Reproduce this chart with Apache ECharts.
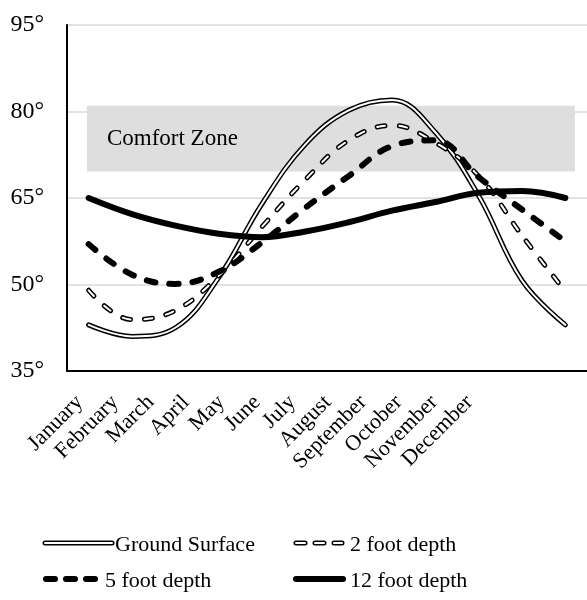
<!DOCTYPE html>
<html lang="en">
<head>
    <meta charset="UTF-8">
    <title>Ground temperature by depth</title>
    <script src="https://cdn.jsdelivr.net/npm/echarts@6/dist/echarts.min.js"></script>
    <style>
        html, body { margin: 0; padding: 0; background: #fff; }
        #chart { width: 587px; height: 600px; }
    </style>
</head>
<body>
    <div id="chart"></div>

    <script>
        // data (degrees F)
        const months = ['January', 'February', 'March', 'April', 'May', 'June',
            'July', 'August', 'September', 'October', 'November', 'December'];
        const groundSurface = [43, 41, 42.5, 51.2, 64, 74.3, 80.2, 82, 76.4, 65.4, 50.7, 43];
        const twoFoot = [49, 43.9, 45.5, 51.5, 60, 68.2, 75, 77.6, 74.6, 68.8, 58.5, 48.8];
        const fiveFoot = [57, 51.7, 50.1, 52.2, 57.3, 63.3, 68.8, 74, 75, 68.6, 63, 57.5];
        const twelveFoot = [65, 62.2, 60.2, 58.8, 58.2, 59.2, 60.8, 62.8, 64.3, 65.9, 66.2, 65];
        const comfortZone = [69.6, 81];   // low, high
        const yTicks = [35, 50, 65, 80, 95];

        // x labels sit on their own, tighter spaced axis (as in the original)
        const labelCats = months.concat(['', '']);

        const FONT = 'Liberation Serif';
        const chart = echarts.init(document.getElementById('chart'));

        function line(name, data, width, color, dash, z) {
            return {
                name: name,
                type: 'line',
                data: data,
                smooth: 0.4,
                showSymbol: false,
                symbol: 'none',
                silent: true,
                z: z,
                lineStyle: {
                    width: width,
                    color: color,
                    type: dash || 'solid',
                    cap: 'round',
                    join: 'round'
                }
            };
        }

        // legend drawn by hand so the double lines can be shown
        function legendItem(x1, x2, y, text, tx, parts) {
            const els = parts.map(p => ({
                type: 'line',
                shape: { x1: x1, y1: y, x2: x2, y2: y },
                style: { stroke: p.color, lineWidth: p.width, lineCap: 'round', lineDash: p.dash || null },
                z: 100 + (p.z || 0)
            }));
            els.push({
                type: 'text',
                x: tx,
                y: y + 2,
                style: { text: text, font: '22px "Liberation Serif"', fill: '#000', verticalAlign: 'middle' },
                z: 100
            });
            return els;
        }

        const graphics = [].concat(
            legendItem(45, 112, 543, 'Ground Surface', 115, [
                { color: '#000', width: 5 }, { color: '#fff', width: 2, z: 1 }]),
            legendItem(296, 342, 543, '2 foot depth', 350, [
                { color: '#000', width: 5, dash: [9, 10] }, { color: '#fff', width: 2, dash: [9, 10], z: 1 }]),
            legendItem(46, 95, 579, '5 foot depth', 105, [
                { color: '#000', width: 6, dash: [9, 11] }]),
            legendItem(296, 343, 579, '12 foot depth', 350, [
                { color: '#000', width: 6 }])
        );

        const option = {
            animation: false,
            backgroundColor: '#fff',
            textStyle: { fontFamily: FONT, color: '#000' },
            grid: [
                { left: 67, right: 0, top: 25, bottom: 229 },
                { left: 62, width: 35.45 * labelCats.length, top: 25, bottom: 229 }
            ],
            xAxis: [
                {
                    type: 'category',
                    gridIndex: 0,
                    data: months,
                    boundaryGap: true,
                    axisLine: { show: true, onZero: false, lineStyle: { color: '#000', width: 2 } },
                    axisTick: { show: false },
                    axisLabel: { show: false },
                    splitLine: { show: false }
                },
                {
                    type: 'category',
                    gridIndex: 1,
                    data: labelCats,
                    boundaryGap: true,
                    axisLine: { show: false },
                    axisTick: { show: false },
                    splitLine: { show: false },
                    axisLabel: {
                        interval: 0,
                        rotate: 45,
                        margin: 28,
                        fontSize: 22,
                        fontFamily: FONT,
                        color: '#000'
                    }
                },
                {
                    // helper axis for the comfort zone band
                    type: 'value',
                    gridIndex: 0,
                    min: -0.5,
                    max: 11.5,
                    show: false
                }
            ],
            yAxis: [
                {
                    type: 'value',
                    gridIndex: 0,
                    min: yTicks[0],
                    max: yTicks[yTicks.length - 1],
                    interval: 15,
                    axisLine: { show: true, onZero: false, lineStyle: { color: '#000', width: 2 } },
                    axisTick: { show: false },
                    axisLabel: {
                        formatter: '{value}°',
                        fontSize: 24,
                        fontFamily: FONT,
                        color: '#000',
                        margin: 23
                    },
                    splitLine: { lineStyle: { color: '#d9d9d9', width: 1.5 } }
                },
                { type: 'value', gridIndex: 1, min: 0, max: 1, show: false }
            ],
            graphic: graphics,
            series: [
                {
                    name: 'Comfort Zone',
                    type: 'line',
                    xAxisIndex: 2,
                    yAxisIndex: 0,
                    data: [],
                    silent: true,
                    markArea: {
                        silent: true,
                        itemStyle: { color: '#dedede' },
                        label: {
                            show: true,
                            position: 'insideLeft',
                            offset: [15, 0],
                            fontSize: 23,
                            fontFamily: FONT,
                            color: '#000'
                        },
                        data: [[
                            { name: 'Comfort Zone', coord: [-0.04, comfortZone[0]] },
                            { coord: [11.22, comfortZone[1]] }
                        ]]
                    }
                },
                { type: 'line', xAxisIndex: 1, yAxisIndex: 1, data: [], silent: true },
                line('Ground Surface', groundSurface, 5, '#000', null, 2),
                line('Ground Surface inner', groundSurface, 2, '#fff', null, 3),
                line('2 foot depth', twoFoot, 5, '#000', [8, 14], 4),
                line('2 foot depth inner', twoFoot, 2, '#fff', [8, 14], 5),
                line('5 foot depth', fiveFoot, 6, '#000', [9, 14], 6),
                line('12 foot depth', twelveFoot, 6, '#000', null, 7)
            ]
        };
        chart.setOption(option);
    </script>
</body>
</html>
